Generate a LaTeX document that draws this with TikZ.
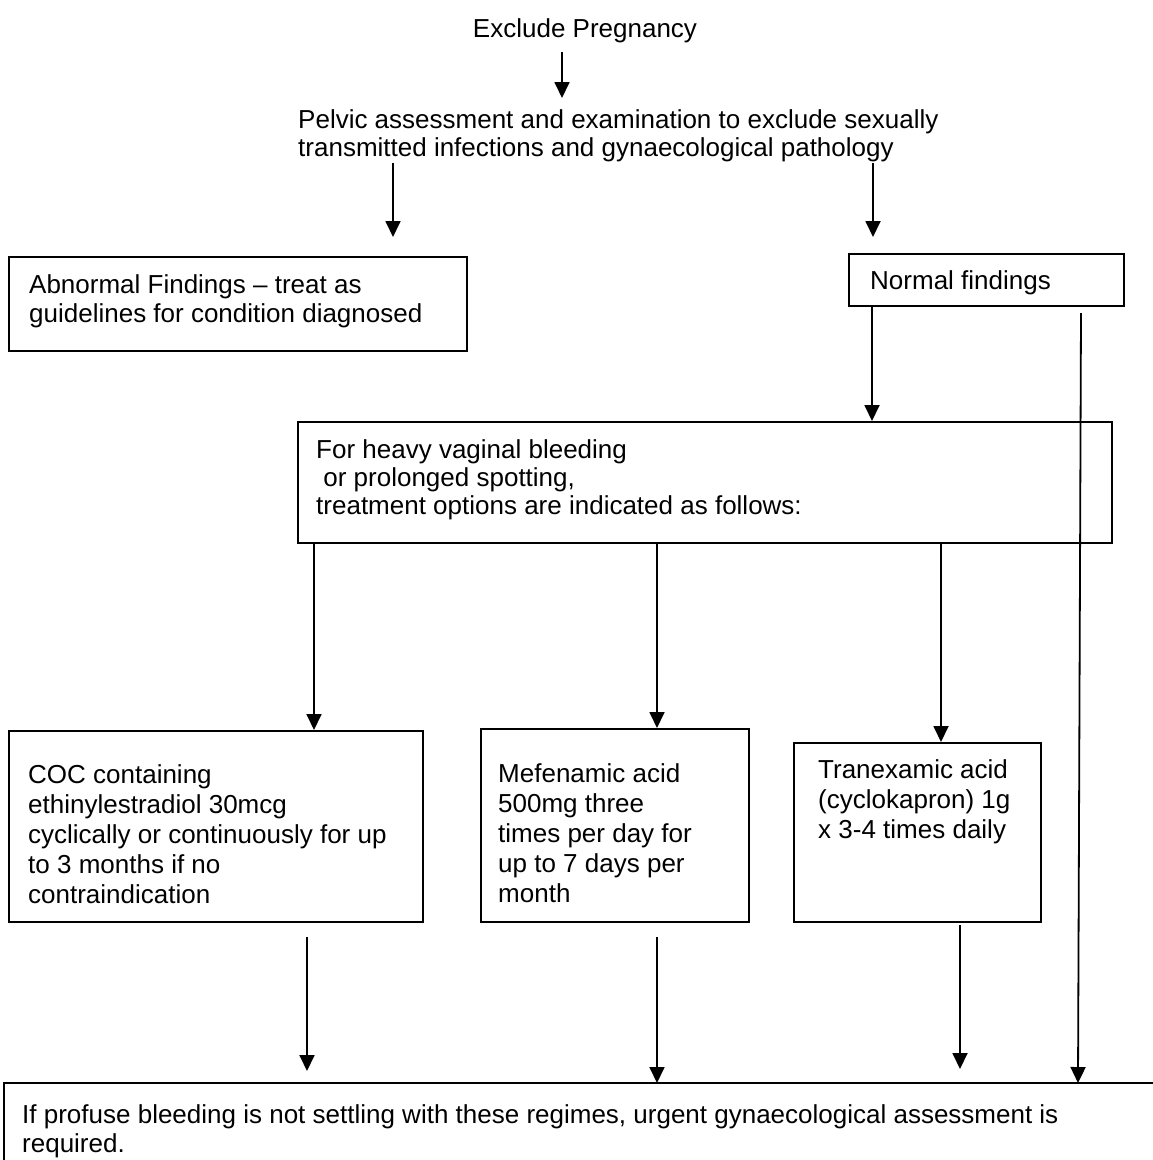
\documentclass[tikz,border=0pt]{standalone}
\usepackage{fontspec}
\setmainfont{Liberation Sans}
\usetikzlibrary{arrows.meta}
\begin{document}
\begin{tikzpicture}[x=1pt,y=-1pt,
  box/.style={draw, line width=1.8pt, inner sep=0pt, anchor=north west},
  txt/.style={anchor=base west, inner sep=0pt, align=left, font=\fontsize{26}{30}\selectfont},
  arr/.style={line width=1.8pt, -{Triangle[length=16pt,width=15pt]}},
  ln/.style={line width=1.8pt}]
\useasboundingbox (0,0) rectangle (1153,1160);
% texts without boxes (base anchor = baseline of last line)
\node[txt, anchor=base] (ex) at (585,37) {Exclude Pregnancy};
\node[txt, font=\fontsize{26}{28}\selectfont] (pelv) at (298,156) {Pelvic assessment and examination to exclude sexually\\transmitted infections and gynaecological pathology};
% boxes
\node[box, minimum width=458pt, minimum height=94pt] (abn) at (8,256) {};
\node[txt, font=\fontsize{26}{29}\selectfont] (abnT) at (29,322) {Abnormal Findings -- treat as\\guidelines for condition diagnosed};
\node[box, minimum width=275pt, minimum height=52pt] (norm) at (848,253) {};
\node[txt] (normT) at (870,289) {Normal findings};
\node[box, minimum width=814pt, minimum height=121pt] (heavy) at (297,421) {};
\node[txt, font=\fontsize{26}{28}\selectfont] (heavyT) at (316,514) {For heavy vaginal bleeding\\\ or prolonged spotting,\\treatment options are indicated as follows:};
\node[box, minimum width=414pt, minimum height=191pt] (coc) at (8,730) {};
\node[txt] (cocT) at (28,903) {COC containing\\ethinylestradiol 30mcg\\cyclically or continuously for up\\to 3 months if no\\contraindication};
\node[box, minimum width=268pt, minimum height=193pt] (mef) at (480,728) {};
\node[txt] (mefT) at (498,902) {Mefenamic acid\\500mg three\\times per day for\\up to 7 days per\\month};
\node[box, minimum width=247pt, minimum height=179pt] (tra) at (793,742) {};
\node[txt] (traT) at (818,838) {Tranexamic acid\\(cyclokapron) 1g\\x 3-4 times daily};
% bottom open box
\draw[ln] (4,1160) -- (4,1083) -- (1153,1083);
\node[txt, font=\fontsize{26}{29}\selectfont] (botT) at (22,1152) {If profuse bleeding is not settling with these regimes, urgent gynaecological assessment is\\required.};
% free ends
\coordinate (pl1) at (393,163);
\coordinate (pl1e) at (393,237);
\coordinate (pr1) at (873,163);
\coordinate (pr1e) at (873,237);
\coordinate (lt) at (1081,313);
\coordinate (lb) at (1078,1083);
\coordinate (b1s) at (307,937);
\coordinate (b1e) at (307,1071);
\coordinate (b2s) at (657,937);
\coordinate (b2e) at (657,1083);
\coordinate (b3s) at (960,925);
\coordinate (b3e) at (960,1069);
% connectors
\draw[arr] (562,52) -- (562,98);
\draw[arr] (pl1) -- (pl1e);
\draw[arr] (pr1) -- (pr1e);
\draw[arr] (norm.south west -| 872,0) -- (heavy.north west -| 872,0);
\draw[arr] (lt) -- (lb);
\draw[arr] (heavy.south west -| 314,0) -- (coc.north west -| 314,0);
\draw[arr] (heavy.south west -| 657,0) -- (mef.north west -| 657,0);
\draw[arr] (heavy.south west -| 941,0) -- (tra.north west -| 941,0);
\draw[arr] (b1s) -- (b1e);
\draw[arr] (b2s) -- (b2e);
\draw[arr] (b3s) -- (b3e);
\end{tikzpicture}
\end{document}
